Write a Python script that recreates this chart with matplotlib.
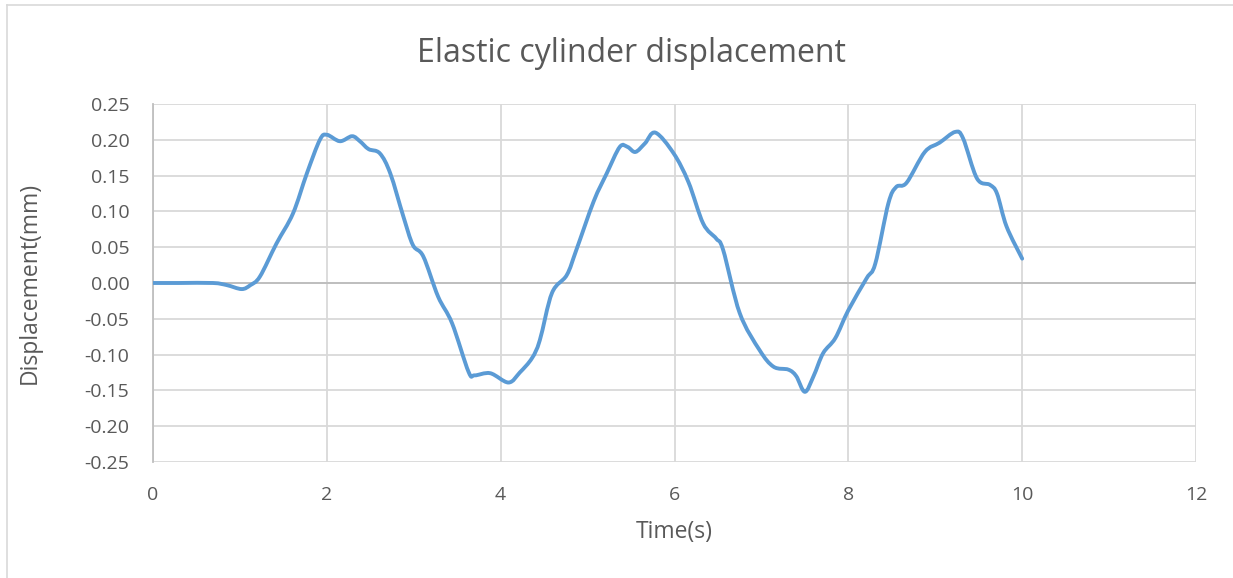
import numpy as np
import matplotlib.pyplot as plt
from matplotlib.path import Path
from matplotlib.patches import PathPatch
from matplotlib.lines import Line2D

# time (s) and displacement (mm) samples
time_s = [0.0, 0.3, 0.69, 0.85, 1.02, 1.12, 1.23, 1.42, 1.61, 1.77, 1.92, 2.0,
          2.15, 2.29, 2.38, 2.48, 2.61, 2.73, 2.88, 2.99, 3.11, 3.28, 3.44,
          3.63, 3.70, 3.88, 4.09, 4.22, 4.36, 4.45, 4.59, 4.76, 4.87, 5.07,
          5.22, 5.37, 5.46, 5.55, 5.66, 5.78, 5.99, 6.16, 6.33, 6.48, 6.56,
          6.75, 6.98, 7.14, 7.31, 7.40, 7.50, 7.60, 7.71, 7.85, 8.0, 8.21,
          8.31, 8.46, 8.55, 8.67, 8.88, 9.05, 9.23, 9.32, 9.48, 9.63, 9.71,
          9.82, 10.0]
disp_mm = [0.0, 0.0, 0.0, -0.003, -0.0085, -0.003, 0.009, 0.055, 0.097, 0.153,
           0.2, 0.207, 0.198, 0.205, 0.198, 0.187, 0.181, 0.153, 0.093, 0.053,
           0.037, -0.019, -0.056, -0.124, -0.129, -0.126, -0.139, -0.125,
           -0.105, -0.08, -0.014, 0.011, 0.046, 0.114, 0.153, 0.19, 0.19,
           0.183, 0.195, 0.21, 0.181, 0.141, 0.083, 0.062, 0.046, -0.042,
           -0.094, -0.117, -0.121, -0.13, -0.152, -0.13, -0.098, -0.077,
           -0.038, 0.0065, 0.027, 0.111, 0.134, 0.14, 0.183, 0.196, 0.211,
           0.202, 0.146, 0.137, 0.125, 0.079, 0.034]

x_ticks = [0, 2, 4, 6, 8, 10, 12]
y_ticks = [-0.25, -0.20, -0.15, -0.10, -0.05, 0.0, 0.05, 0.10, 0.15, 0.20, 0.25]


def smooth_path(x, y):
    # Catmull-Rom style cubic Bezier through every sample
    p = np.column_stack([x, y])
    pad = np.vstack([p[0], p, p[-1]])
    verts = [p[0]]
    codes = [Path.MOVETO]
    for i in range(len(p) - 1):
        p0, p1, p2, p3 = pad[i], pad[i + 1], pad[i + 2], pad[i + 3]
        verts += [p1 + (p2 - p0) / 6, p2 - (p3 - p1) / 6, p2]
        codes += [Path.CURVE4] * 3
    return Path(verts, codes)


plt.rcParams['font.family'] = ['Open Sans', 'DejaVu Sans']

fig = plt.figure(figsize=(12.33, 5.78), dpi=100)
ax = fig.add_axes([0.1241, 0.2007, 0.8459, 0.6194])

grid_c = '#d9d9d9'
text_c = '#595959'

ax.add_patch(PathPatch(smooth_path(time_s, disp_mm), fill=False,
                       edgecolor='#5b9bd5', linewidth=2.8,
                       joinstyle='round', capstyle='round', zorder=3))

ax.set_xlim(0, 12)
ax.set_ylim(-0.25, 0.25)
ax.set_xticks(x_ticks)
ax.set_yticks(y_ticks)
ax.set_yticklabels([f"{v:.2f}" for v in y_ticks])
ax.grid(True, color=grid_c, linewidth=1.3)
ax.axhline(0, color='#bfbfbf', linewidth=1.4, zorder=2)

for s in ['top', 'right', 'bottom']:
    ax.spines[s].set_visible(False)
ax.spines['left'].set_color('#bfbfbf')
ax.spines['left'].set_linewidth(1.3)
ax.tick_params(length=0, labelsize=14, colors=text_c)
ax.tick_params(axis='y', pad=17)
ax.tick_params(axis='x', pad=17)

ax.set_xlabel("Time(s)", fontsize=16.5, color=text_c, va='center')
ax.set_ylabel("Displacement(mm)", fontsize=16.5, color=text_c, va='center')
ax.xaxis.set_label_coords(0.5, -0.196)
ax.yaxis.set_label_coords(-0.118, 0.5)
fig.text(0.512, 0.908, "Elastic cylinder displacement", fontsize=23,
         color=text_c, ha='center', va='center')

# chart border (left and top edges)
fig.add_artist(Line2D([0.006, 0.006], [0.0, 0.991], color='#d9d9d9', linewidth=1.2))
fig.add_artist(Line2D([0.006, 1.0], [0.991, 0.991], color='#d9d9d9', linewidth=1.2))

plt.savefig('out.png', dpi=100)
